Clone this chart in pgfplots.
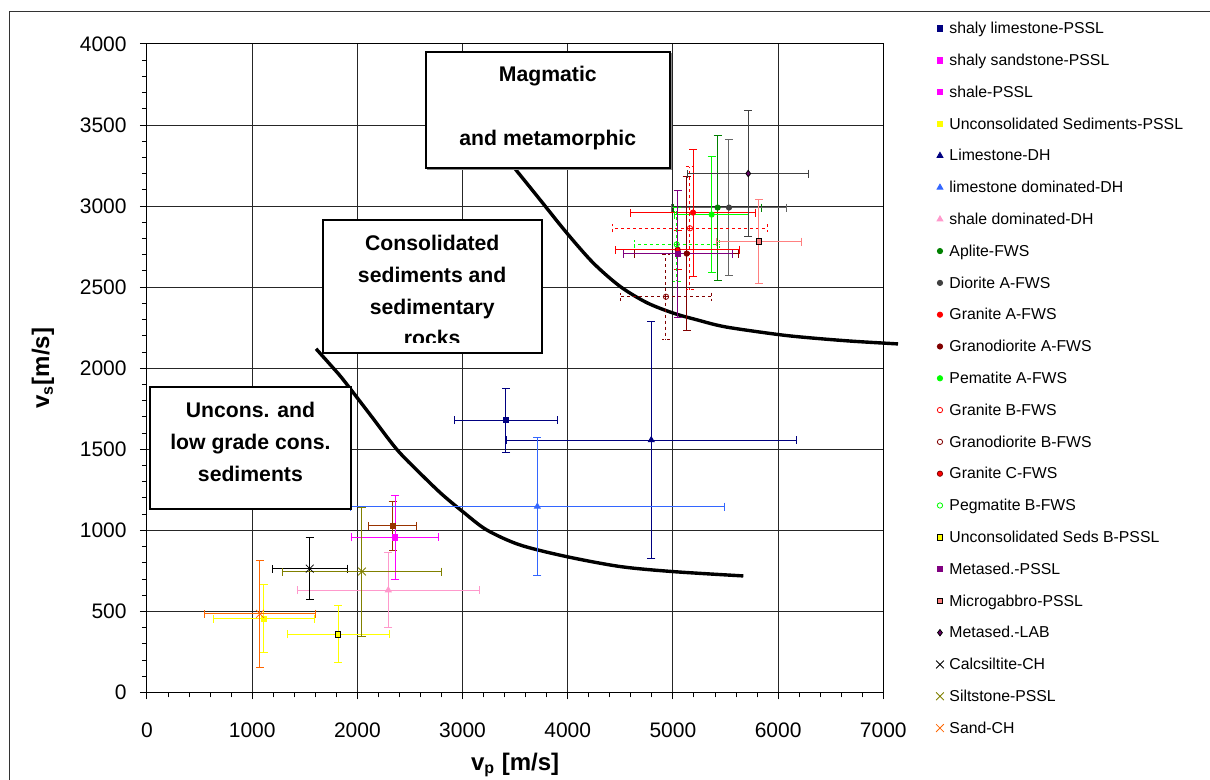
\documentclass[border=0pt]{standalone}
\usepackage{pgfplots}
\pgfplotsset{compat=1.18}
\usepackage{fontspec}
\setmainfont{Liberation Sans}
\definecolor{navyc}{HTML}{000080}
\definecolor{magc}{HTML}{FF00FF}
\definecolor{brownc}{HTML}{993300}
\definecolor{yelc}{HTML}{FFFF00}
\definecolor{bluec}{HTML}{3366FF}
\definecolor{pinkc}{HTML}{FF99CC}
\definecolor{greenc}{HTML}{008000}
\definecolor{dgray}{HTML}{404040}
\definecolor{mgray}{HTML}{666666}
\definecolor{redc}{HTML}{FF0000}
\definecolor{dredc}{HTML}{800000}
\definecolor{limec}{HTML}{00FF00}
\definecolor{purpc}{HTML}{800080}
\definecolor{salmc}{HTML}{FF8080}
\definecolor{dpurp}{HTML}{660066}
\definecolor{olivec}{HTML}{808000}
\definecolor{orangec}{HTML}{FF6600}
\pgfplotsset{
  ebar/.style={error bars/x dir=both, error bars/x explicit, error bars/y dir=both, error bars/y explicit,
    error bars/error bar style={line width=0.5pt,#1},
    error bars/error mark options={rotate=90, mark size=2pt, line width=0.5pt,#1}},
  ebar/.default={},
}
\begin{document}
\begin{tikzpicture}
\draw[line width=0.5pt, black!80] (4.5pt,-10pt) -- (4.5pt,384.15pt) -- (620pt,384.15pt);
\begin{axis}[
  at={(73.5pt,43.75pt)}, anchor=south west,
  scale only axis, width=368.15pt, height=324.25pt,
  xmin=0, xmax=7000, ymin=0, ymax=4000,
  xtick={0,1000,...,7000}, ytick={0,500,...,4000},
  minor x tick num=4, minor y tick num=4,
  xmajorgrids, ymajorgrids,
  grid style={black!85, line width=0.5pt},
  axis line style={black, line width=0.5pt},
  tick align=outside, xtick pos=bottom, ytick pos=left,
  major tick length=3.5pt, minor tick length=2.5pt,
  every tick/.style={black, line width=0.5pt},
  scaled ticks=false,
  /pgf/number format/1000 sep={},
  /pgf/number format/assume math mode=true,
  tick label style={font=\fontsize{10.5}{12}\selectfont},
  xticklabel style={anchor=north, inner sep=0pt, yshift=-11.5pt},
  yticklabel style={anchor=east, inner sep=0pt, xshift=-6.5pt},
  xlabel={\textbf{v\textsubscript{p} [m/s]}},
  ylabel={\textbf{v\textsubscript{s}[m/s]}},
  label style={font=\fontsize{12}{14}\selectfont},
  xlabel style={at={(axis description cs:0.5,-0.1118)}, anchor=center},
  ylabel style={at={(axis description cs:-0.1412,0.5)}, anchor=center},
  clip=false,
  legend style={draw=none, fill=none, at={(1.0695,1.0358)}, anchor=north west, inner sep=0pt, outer sep=0pt,
    row sep=8.2pt, column sep=2pt, font=\fontsize{7.9}{9}\selectfont,
    nodes={inner sep=0pt, text height=6.5pt, text depth=1.2pt}},
  legend cell align=left,
  legend image code/.code={\path[draw=none,fill=none] (-2.75pt,-2.75pt) rectangle (2.75pt,2.75pt); \draw[#1] plot coordinates {(0pt,0pt)};},
]
% boundary curves
\addplot[black, line width=1.7pt, smooth, forget plot] coordinates {(3492,3236) (3736,3040) (3990,2835) (4243,2649) (4497,2505) (4750,2405) (5003,2340) (5226,2299) (5500,2255) (6000,2208) (6296,2188) (6700,2167) (7140,2150)};
\addplot[black, line width=1.7pt, smooth, forget plot] coordinates {(1607,2120) (1771,2001) (1866,1929) (2120,1715) (2374,1500) (2595,1353) (2800,1225) (3001,1116) (3229,1003) (3546,910) (3990,838) (4497,777) (4994,746) (5669,719)};
% shale-PSSL plotted point (brown)
\addplot[only marks, color=brownc, mark=square*, mark size=1.33pt, ebar, forget plot] coordinates {(2336,1028) +- (228,153)};
% series
\addplot[only marks, color=navyc, mark=square*, mark size=1.33pt, ebar] coordinates {(3413,1680) +- (485,197)};
\addlegendentry{shaly limestone-PSSL}
\addplot[only marks, color=magc, mark=square*, mark size=1.33pt, ebar] coordinates {(2358,956) +- (415,256)};
\addlegendentry{shaly sandstone-PSSL}
\addlegendimage{only marks, color=magc, mark=square*, mark size=1.33pt}
\addlegendentry{shale-PSSL}
\addplot[only marks, color=yelc, mark=square*, mark size=1.33pt, ebar] coordinates {(1112,456) +- (477,211)};
\addlegendentry{Unconsolidated Sediments-PSSL}
\addplot[only marks, color=navyc, mark=triangle*, mark size=1.7pt, ebar] coordinates {(4794,1557) +- (1380,729)};
\addlegendentry{Limestone-DH}
\addplot[only marks, color=bluec, mark=triangle*, mark size=1.7pt, ebar] coordinates {(3711,1147) +- (1777,423)};
\addlegendentry{limestone dominated-DH}
\addplot[only marks, color=pinkc, mark=triangle*, mark size=1.7pt, ebar] coordinates {(2294,631) +- (865,232)};
\addlegendentry{shale dominated-DH}
\addplot[only marks, color=greenc, mark=*, mark size=1.33pt, ebar] coordinates {(5425,2991) +- (418,447)};
\addlegendentry{Aplite-FWS}
\addplot[only marks, color=dgray, mark=*, mark size=1.33pt, ebar={color=mgray}] coordinates {(5533,2991) +- (544,421)};
\addlegendentry{Diorite A-FWS}
\addplot[only marks, color=redc, mark=*, mark size=1.33pt, ebar] coordinates {(5191,2960) +- (597,392)};
\addlegendentry{Granite A-FWS}
\addplot[only marks, color=dredc, mark=*, mark size=1.33pt, ebar] coordinates {(5131,2707) +- (496,476)};
\addlegendentry{Granodiorite A-FWS}
\addplot[only marks, color=limec, mark=*, mark size=1.33pt, ebar] coordinates {(5368,2948) +- (353,358)};
\addlegendentry{Pematite A-FWS}
\addplot[only marks, color=redc, mark=o, mark size=1.33pt, mark options={fill=white}, ebar={dash pattern=on 1.5pt off 1.5pt}] coordinates {(5162,2863) +- (741,380)};
\addlegendentry{Granite B-FWS}
\addplot[only marks, color=dredc, mark=o, mark size=1.33pt, mark options={fill=white}, ebar={dash pattern=on 1.5pt off 1.5pt}] coordinates {(4934,2441) +- (437,262)};
\addlegendentry{Granodiorite B-FWS}
\addplot[only marks, color=redc, mark=*, mark size=1.33pt, mark options={draw=dredc, fill=redc}, ebar={color=redc}] coordinates {(5045,2731) +- (590,120)};
\addlegendentry{Granite C-FWS}
\addplot[only marks, color=limec, mark=o, mark size=1.33pt, mark options={fill=white}, ebar={dash pattern=on 1.5pt off 1.5pt}] coordinates {(5036,2764) +- (402,228)};
\addlegendentry{Pegmatite B-FWS}
\addplot[only marks, color=yelc, mark=square*, mark size=1.4pt, mark options={draw=black, fill=yelc}, ebar={color=yelc}] coordinates {(1816,359) +- (485,175)};
\addlegendentry{Unconsolidated Seds B-PSSL}
\addplot[only marks, color=purpc, mark=square*, mark size=1.33pt, ebar] coordinates {(5048,2705) +- (516,390)};
\addlegendentry{Metased.-PSSL}
\addplot[only marks, color=salmc, mark=square*, mark size=1.4pt, mark options={draw=black, fill=salmc}, ebar={color=salmc}] coordinates {(5818,2781) +- (406,258)};
\addlegendentry{Microgabbro-PSSL}
\addplot[only marks, color=dpurp, mark=diamond*, mark size=1.6pt, mark options={draw=black, fill=dpurp}, ebar={color=dgray}] coordinates {(5716,3201) +- (577,387)};
\addlegendentry{Metased.-LAB}
\addplot[only marks, color=black, mark=x, mark size=2.75pt, ebar] coordinates {(1547,764) +- (357,189)};
\addlegendentry{Calcsiltite-CH}
\addplot[only marks, color=olivec, mark=x, mark size=2.75pt, ebar] coordinates {(2044,746) +- (752,398)};
\addlegendentry{Siltstone-PSSL}
\addplot[only marks, color=orangec, mark=x, mark size=2.75pt, ebar] coordinates {(1074,485) +- (532,329)};
\addlegendentry{Sand-CH}
\end{axis}
% annotation boxes
\fill[black!45] (213.6pt,305.1pt) rectangle (335.75pt,363.4pt);
\draw[line width=0.9pt, fill=white] (212.85pt,305.85pt) rectangle (335pt,364.15pt);
\node[anchor=base, inner sep=0pt, font=\fontsize{10.6}{12}\selectfont\bfseries] at (273.9pt,349pt) {Magmatic};
\node[anchor=base, inner sep=0pt, font=\fontsize{10.6}{12}\selectfont\bfseries] at (273.9pt,317pt) {and metamorphic};
\fill[black!45] (162.1pt,212.9pt) rectangle (271.6pt,279.25pt);
\draw[line width=0.9pt, fill=white] (161.35pt,213.65pt) rectangle (270.85pt,280pt);
\begin{scope}
\clip (161.35pt,218.65pt) rectangle (270.85pt,280pt);
\node[anchor=base, inner sep=0pt, font=\fontsize{10.6}{12}\selectfont\bfseries] at (216.1pt,264.5pt) {Consolidated};
\node[anchor=base, inner sep=0pt, font=\fontsize{10.6}{12}\selectfont\bfseries] at (216.1pt,248.65pt) {sediments and};
\node[anchor=base, inner sep=0pt, font=\fontsize{10.6}{12}\selectfont\bfseries] at (216.1pt,232.85pt) {sedimentary};
\node[anchor=base, inner sep=0pt, font=\fontsize{10.6}{12}\selectfont\bfseries] at (216.1pt,217pt) {rocks};
\end{scope}
\fill[black!45] (75.75pt,134.75pt) rectangle (176.1pt,195.6pt);
\draw[line width=0.9pt, fill=white] (75pt,135.5pt) rectangle (175.35pt,196.35pt);
\node[anchor=base, inner sep=0pt, font=\fontsize{10.6}{12}\selectfont\bfseries] at (125.2pt,181.35pt) {Uncons. and};
\node[anchor=base, inner sep=0pt, font=\fontsize{10.6}{12}\selectfont\bfseries] at (125.2pt,165pt) {low grade cons.};
\node[anchor=base, inner sep=0pt, font=\fontsize{10.6}{12}\selectfont\bfseries] at (125.2pt,149.15pt) {sediments};
\pgfresetboundingbox
\path[use as bounding box] (0pt,0pt) rectangle (605pt,390pt);
\end{tikzpicture}
\end{document}
